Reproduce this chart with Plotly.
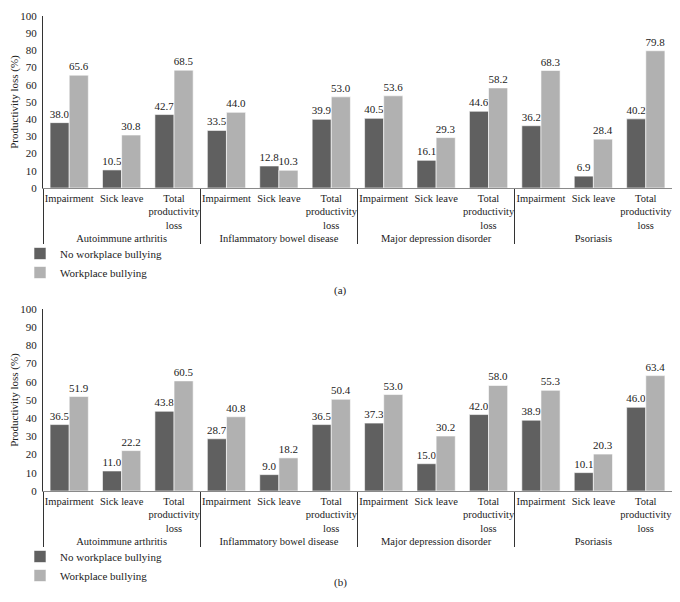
import plotly.graph_objects as go

diseases = ["Autoimmune arthritis", "Inflammatory bowel disease",
            "Major depression disorder", "Psoriasis"]
measures = ["Impairment", "Sick leave", "Total<br>productivity<br>loss"]
series_names = ["No workplace bullying", "Workplace bullying"]
y_ticks = [0, 10, 20, 30, 40, 50, 60, 70, 80, 90, 100]

a_no = [38.0, 10.5, 42.7, 33.5, 12.8, 39.9, 40.5, 16.1, 44.6, 36.2, 6.9, 40.2]
a_yes = [65.6, 30.8, 68.5, 44.0, 10.3, 53.0, 53.6, 29.3, 58.2, 68.3, 28.4, 79.8]
b_no = [36.5, 11.0, 43.8, 28.7, 9.0, 36.5, 37.3, 15.0, 42.0, 38.9, 10.1, 46.0]
b_yes = [51.9, 22.2, 60.5, 40.8, 18.2, 50.4, 53.0, 30.2, 58.0, 55.3, 20.3, 63.4]

colors = ["#606060", "#b1b1b1"]
FONT = "Liberation Serif"

x = [[d for d in diseases for m in measures], [m for d in diseases for m in measures]]

fig = go.Figure()
panels = [(a_no, a_yes, "x", "y", "legend"), (b_no, b_yes, "x2", "y2", "legend2")]
for (no, yes, xa, ya, lg) in panels:
    for name, vals, col in zip(series_names, [no, yes], colors):
        fig.add_trace(go.Bar(
            x=x, y=vals, name=name, xaxis=xa, yaxis=ya, legend=lg,
            marker=dict(color=col, line=dict(color="white", width=0.6)),
            texttemplate="%{y:.1f}", textposition="outside",
            textfont=dict(family=FONT, size=11, color="#222"),
            constraintext="none", cliponaxis=False,
        ))

# the page body adds an 8px margin; the figure is sized to fit the window
OFF = 8
W, H = 680 - 2 * OFF, 602 - 2 * OFF


def px(v):
    return (v - OFF) / W


def py(v):
    return 1 - (v - OFF) / H


xdom = [px(43), 1.0]
ax_common = dict(type="multicategory", showgrid=False, showline=True,
                 linecolor="#8a8a8a", linewidth=1, ticks="", tickangle=0,
                 showdividers=True, dividercolor="#333", dividerwidth=1,
                 tickfont=dict(family=FONT, size=10.5, color="#222"),
                 automargin=False, domain=xdom)
y_common = dict(range=[0, 100], tickvals=y_ticks, showgrid=False, showline=True,
                linecolor="#333", linewidth=1, ticks="", zeroline=False,
                automargin=False, ticklabelstandoff=3,
                tickfont=dict(family=FONT, size=11, color="#222"),
                title=dict(text="Productivity loss (%)", standoff=6,
                           font=dict(family=FONT, size=11, color="#222")))

leg_common = dict(xanchor="left", yanchor="top",
                  font=dict(family=FONT, size=11, color="#222"),
                  tracegroupgap=0, itemwidth=30, bgcolor="rgba(0,0,0,0)")

fig.update_layout(
    width=W, height=H,
    margin=dict(l=0, r=0, t=0, b=0),
    paper_bgcolor="white", plot_bgcolor="white",
    barmode="group", bargap=0.27, bargroupgap=0.0,
    font=dict(family=FONT, size=11, color="#222"),
    xaxis=dict(**ax_common, anchor="y"),
    yaxis=dict(**y_common, domain=[py(188), py(16)], anchor="x"),
    xaxis2=dict(**ax_common, anchor="y2"),
    yaxis2=dict(**y_common, domain=[py(491), py(309)], anchor="x2"),
    legend=dict(x=px(20), y=py(239), **leg_common),
    legend2=dict(x=px(20), y=py(542), **leg_common),
    annotations=[
        dict(text="(a)", x=px(340), y=py(290), xref="paper", yref="paper",
             showarrow=False, font=dict(family=FONT, size=11, color="#222")),
        dict(text="(b)", x=px(340), y=py(591), xref="paper", yref="paper",
             showarrow=False, font=dict(family=FONT, size=11, color="#222")),
    ],
)

fig.write_html("out.html")
